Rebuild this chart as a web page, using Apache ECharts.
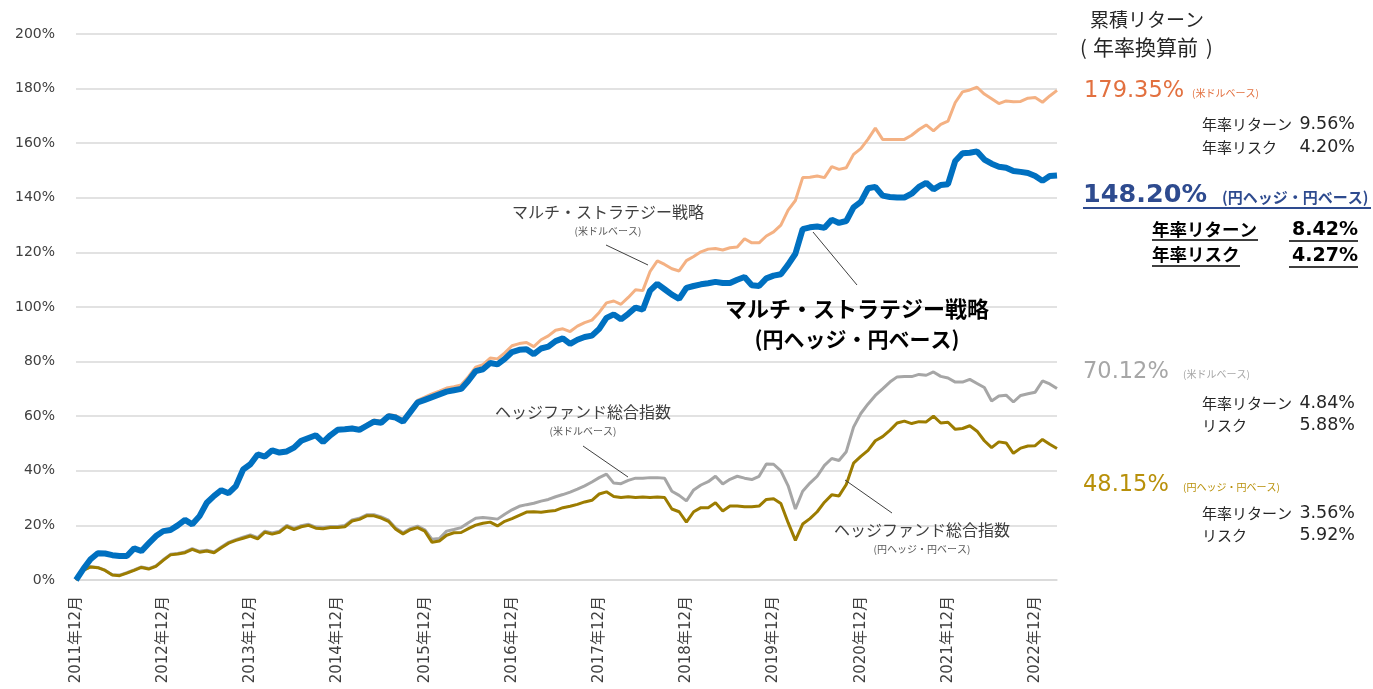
<!DOCTYPE html>
<html>
<head>
<meta charset="utf-8">
<script src="https://cdn.jsdelivr.net/npm/echarts@6/dist/echarts.min.js"></script>
<style>
    html, body { margin: 0; padding: 0; background: #fff; }
    #chart_div { width: 1373px; height: 689px; }
</style>
</head>
<body>
<div id="chart_div"></div>
<script>
// ----------- データ -----------
// 月次 2011年12月 ～ 2023年3月
var months = []
var year = 2011, month = 12
while (months.length < 136) {
    months.push(year + "年" + month + "月")
    month++
    if (month > 12) { month = 1; year++ }
}

var y_ticks = [0, 20, 40, 60, 80, 100, 120, 140, 160, 180, 200]

// マルチ・ストラテジー戦略 (円ヘッジ・円ベース)
var ms_jpy = [
    0, 4, 7.6, 9.8, 9.7, 9.1, 8.8, 8.8, 11.6, 10.6, 13.4, 16.1,
    17.9, 18.3, 20, 22, 20.4, 23.4, 28.3, 30.8, 32.9, 31.8, 34.4, 40.5,
    42.4, 46, 45.2, 47.5, 46.7, 47.1, 48.5, 51, 52, 53, 50.5, 53,
    55, 55.2, 55.5, 55, 56.5, 58, 57.6, 60, 59.5, 58, 61.5, 65,
    66, 67, 68, 69, 69.5, 70, 73, 76.5, 77.2, 79.5, 79, 81,
    83.5, 84.3, 84.5, 82.7, 84.8, 85.5, 87.5, 88.5, 86.5, 88, 89, 89.5,
    92, 96, 97.3, 95.5, 97.5, 99.8, 99, 106, 108.5, 106.5, 104.5, 103,
    107, 107.7, 108.3, 108.7, 109.2, 108.8, 108.8, 110, 111, 108, 107.7, 110.5,
    111.5, 112, 115.5, 119.5, 128.5, 129.2, 129.5, 129, 132, 130.8, 131.5, 136.5,
    138.5, 143.5, 144, 140.8, 140.3, 140.1, 140.1, 141.5, 144, 145.5, 143.1, 144.7,
    145, 153.5, 156.3, 156.5, 157, 154, 152.5, 151.4, 151, 149.8, 149.5, 149.1,
    148, 146.2, 148, 148.2
]
// マルチ・ストラテジー戦略 (米ドルベース)
var ms_usd = [
    0, 4.2, 7.8, 9.9, 9.6, 9, 8.7, 8.9, 11.5, 10.7, 13.5, 16,
    17.8, 18.4, 20.1, 21.8, 20.5, 23.5, 28.2, 30.6, 32.8, 31.9, 34.6, 40.3,
    42.5, 46.1, 45.4, 47.6, 46.8, 47.3, 48.7, 51.2, 52.2, 53.3, 50.8, 53.4,
    55.3, 55.6, 56, 55.5, 57, 58.6, 58.2, 60.6, 60.2, 58.8, 62.3, 65.8,
    67, 68.2, 69.2, 70.3, 70.8, 71.4, 74.5, 78, 78.9, 81.3, 81, 83.2,
    85.8, 86.6, 87, 85.5, 88, 89.4, 91.5, 92, 91, 93, 94.3, 95.2,
    98, 101.5, 102.2, 101, 103.5, 106.3, 106, 113, 116.9, 115.6, 114, 113.2,
    117, 118.5, 120.2, 121.2, 121.4, 120.9, 121.7, 122, 125, 123.5, 123.5, 126,
    127.5, 130, 135.5, 139, 147.4, 147.5, 148, 147.4, 151.4, 150.4, 151, 155.9,
    158, 161.5, 165.5, 161.4, 161.4, 161.4, 161.4, 162.9, 165, 166.7, 164.5, 166.9,
    168.1, 174.9, 178.8, 179.5, 180.5, 178, 176.3, 174.5, 175.5, 175.2, 175.3, 176.5,
    176.7, 175, 177.3, 179.35
]
// ヘッジファンド総合指数 (米ドルベース)
var hf_usd = [
    0, 3.6, 4.9, 4.6, 3.6, 1.9, 1.8, 2.7, 3.7, 4.8, 4.2, 5.2,
    7.4, 9.4, 9.7, 10.3, 11.5, 10.5, 10.9, 10.3, 12.1, 13.8, 14.8, 15.7,
    16.5, 15.5, 17.9, 17.2, 17.9, 20, 18.9, 19.9, 20.4, 19.4, 19.2, 19.6,
    19.6, 20, 22, 22.6, 23.9, 23.9, 23.1, 21.9, 19, 17.3, 18.8, 19.7,
    18.4, 14.9, 15.2, 17.9, 18.5, 19.2, 21, 22.6, 22.9, 22.6, 22.3, 24.1,
    25.7, 27, 27.6, 28.1, 28.9, 29.5, 30.5, 31.3, 32.2, 33.3, 34.5, 35.9,
    37.5, 38.8, 35.5, 35.3, 36.5, 37.3, 37.3, 37.5, 37.5, 37.3, 32.5, 31,
    29, 33, 34.8, 36, 38, 35.2, 36.9, 38, 37.3, 36.8, 38, 42.5,
    42.4, 40, 34.5, 26, 32.5, 35.5, 38, 42, 44.5, 43.8, 47, 56,
    61, 64.5, 67.6, 70, 72.5, 74.4, 74.5, 74.5, 75.3, 75, 76.2, 74.6,
    74, 72.5, 72.5, 73.5, 72, 70.5, 65.6, 67.4, 67.7, 65.2, 67.6, 68.2,
    68.8, 72.9, 71.8, 70.12
]
// ヘッジファンド総合指数 (円ヘッジ・円ベース)
var hf_jpy = [
    0, 3.5, 4.8, 4.5, 3.5, 1.8, 1.6, 2.5, 3.5, 4.6, 4, 5,
    7.2, 9.2, 9.5, 10, 11.2, 10.2, 10.6, 10, 11.8, 13.5, 14.5, 15.3,
    16.1, 15.1, 17.5, 16.8, 17.5, 19.6, 18.5, 19.5, 20, 19, 18.8, 19.2,
    19.2, 19.5, 21.6, 22.2, 23.5, 23.5, 22.7, 21.5, 18.6, 16.9, 18.4, 19.2,
    17.9, 13.8, 14.3, 16.4, 17.3, 17.4, 18.8, 20.1, 20.8, 21.2, 19.8, 21.5,
    22.5, 23.7, 24.9, 25, 24.8, 25.2, 25.5, 26.5, 27, 27.7, 28.6, 29.2,
    31.5, 32.3, 30.6, 30.2, 30.5, 30.2, 30.4, 30.2, 30.4, 30.2, 26, 25,
    21.2, 25, 26.5, 26.5, 28.3, 25.3, 27.1, 27.1, 26.8, 26.8, 27.1, 29.5,
    29.8, 28, 21, 14.5, 20.5, 22.5, 25, 28.5, 31.2, 30.8, 35, 42.8,
    45.3, 47.5, 51, 52.5, 54.8, 57.5, 58.2, 57.3, 58, 57.9, 60, 57.5,
    57.8, 55.2, 55.5, 56.5, 54.5, 51, 48.5, 50.6, 50.2, 46.4, 48.3, 49.1,
    49.2, 51.5, 49.7, 48.15
]

// 右側の統計
var stats_ms_usd = { total: "179.35%", ret: "9.56%", risk: "4.20%" }
var stats_ms_jpy = { total: "148.20%", ret: "8.42%", risk: "4.27%" }
var stats_hf_usd = { total: "70.12%", ret: "4.84%", risk: "5.88%" }
var stats_hf_jpy = { total: "48.15%", ret: "3.56%", risk: "5.92%" }

// ----------- 色・フォント -----------
var c_blue = "#0070C0"
var c_orange = "#F4B183"
var c_gray = "#A6A6A6"
var c_gold = "#9C7C00"
var jp = "'Noto Sans CJK JP', sans-serif"
var num = "'DejaVu Sans', 'Noto Sans CJK JP', sans-serif"

// ----------- 描画用の関数 -----------
function txt(text, x, y, size, color, opts) {
    opts = opts || {}
    return {
        type: "text", x: x, y: y, z: 100,
        style: {
            text: text,
            fill: color,
            font: (opts.bold ? "bold " : "") + size + "px " + (opts.family || jp),
            textAlign: opts.align || "left",
            textVerticalAlign: "middle",
            align: opts.align || "left",
            verticalAlign: "middle"
        }
    }
}
function seg(x1, y1, x2, y2, color, width) {
    return {
        type: "line", z: 100,
        shape: { x1: x1, y1: y1, x2: x2, y2: y2 },
        style: { stroke: color, lineWidth: width || 1 }
    }
}

var graphic = [
    // 右側
    txt("累積リターン", 1090, 20, 19, "#262626"),
    txt("(", 1080, 47, 20, "#262626"),
    txt("年率換算前", 1093, 47, 21, "#262626"),
    txt(")", 1206, 47, 20, "#262626"),

    txt(stats_ms_usd.total, 1084, 91, 22.5, "#E2703F", { family: num }),
    txt("(米ドルベース)", 1192, 93, 10, "#E2703F"),
    txt("年率リターン", 1202, 124, 15, "#262626"),
    txt(stats_ms_usd.ret, 1355, 124, 17.5, "#262626", { family: num, align: "right" }),
    txt("年率リスク", 1202, 147, 15, "#262626"),
    txt(stats_ms_usd.risk, 1355, 147, 17.5, "#262626", { family: num, align: "right" }),

    txt(stats_ms_jpy.total, 1083, 195, 25.5, "#2E4B8F", { family: num, bold: true }),
    txt("(円ヘッジ・円ベース)", 1222, 197, 15, "#2E4B8F", { bold: true }),
    seg(1083, 208, 1371, 208, "#2E4B8F", 2),
    txt("年率リターン", 1152, 229, 17.5, "#000", { bold: true }),
    txt(stats_ms_jpy.ret, 1358, 230, 19, "#000", { family: num, bold: true, align: "right" }),
    seg(1152, 240, 1258, 240, "#000", 1.5),
    seg(1289, 241, 1358, 241, "#000", 1.5),
    txt("年率リスク", 1152, 254, 17.5, "#000", { bold: true }),
    txt(stats_ms_jpy.risk, 1358, 256, 19, "#000", { family: num, bold: true, align: "right" }),
    seg(1152, 266, 1240, 266, "#000", 1.5),
    seg(1289, 267, 1358, 267, "#000", 1.5),

    txt(stats_hf_usd.total, 1083, 372, 22.5, "#A6A6A6", { family: num }),
    txt("(米ドルベース)", 1183, 374, 10, "#A6A6A6"),
    txt("年率リターン", 1202, 403, 15, "#262626"),
    txt(stats_hf_usd.ret, 1355, 403, 17.5, "#262626", { family: num, align: "right" }),
    txt("リスク", 1202, 425, 15, "#262626"),
    txt(stats_hf_usd.risk, 1355, 425, 17.5, "#262626", { family: num, align: "right" }),

    txt(stats_hf_jpy.total, 1083, 485, 22.5, "#B8900A", { family: num }),
    txt("(円ヘッジ・円ベース)", 1183, 487, 10, "#B8900A"),
    txt("年率リターン", 1202, 513, 15, "#262626"),
    txt(stats_hf_jpy.ret, 1355, 513, 17.5, "#262626", { family: num, align: "right" }),
    txt("リスク", 1202, 535, 15, "#262626"),
    txt(stats_hf_jpy.risk, 1355, 535, 17.5, "#262626", { family: num, align: "right" }),

    // グラフ内の注記
    txt("マルチ・ストラテジー戦略", 608, 212, 16, "#404040", { align: "center" }),
    txt("(米ドルベース)", 608, 231, 10, "#595959", { align: "center" }),
    seg(606, 245, 648, 265, "#404040"),

    txt("マルチ・ストラテジー戦略", 857, 309, 22, "#000", { bold: true, align: "center" }),
    txt("(円ヘッジ・円ベース)", 857, 339, 21, "#000", { bold: true, align: "center" }),
    seg(813, 232, 857, 285, "#404040"),

    txt("ヘッジファンド総合指数", 583, 412, 16, "#404040", { align: "center" }),
    txt("(米ドルベース)", 583, 431, 10, "#595959", { align: "center" }),
    seg(583, 446, 628, 477, "#404040"),

    txt("ヘッジファンド総合指数", 922, 530, 16, "#404040", { align: "center" }),
    txt("(円ヘッジ・円ベース)", 922, 549, 10, "#595959", { align: "center" }),
    seg(845, 480, 892, 513, "#404040")
]

// ----------- グラフ -----------
var chart = echarts.init(document.getElementById("chart_div"))
var option = {
    animation: false,
    backgroundColor: "#fff",
    grid: { left: 76, right: 316, top: 34, bottom: 109 },
    xAxis: {
        type: "category",
        data: months,
        boundaryGap: false,
        axisLine: { lineStyle: { color: "#D9D9D9", width: 1.5 } },
        axisTick: { show: false },
        axisLabel: {
            // 12月だけ表示
            interval: function (index) {
                return index % 12 == 0
            },
            rotate: 90,
            margin: 16,
            color: "#404040",
            fontSize: 15,
            fontFamily: num
        }
    },
    yAxis: {
        type: "value",
        min: y_ticks[0],
        max: y_ticks[y_ticks.length - 1],
        interval: 20,
        axisLine: { show: false },
        axisTick: { show: false },
        splitLine: { lineStyle: { color: "#D9D9D9", width: 1.5 } },
        axisLabel: {
            formatter: "{value}%",
            margin: 21,
            color: "#404040",
            fontSize: 14,
            fontFamily: num
        }
    },
    series: [
        { name: "マルチ(米ドル)", type: "line", data: ms_usd, symbol: "none", z: 2,
          lineStyle: { color: c_orange, width: 3 } },
        { name: "HF(米ドル)", type: "line", data: hf_usd, symbol: "none", z: 3,
          lineStyle: { color: c_gray, width: 3 } },
        { name: "HF(円)", type: "line", data: hf_jpy, symbol: "none", z: 4,
          lineStyle: { color: c_gold, width: 3 } },
        { name: "マルチ(円)", type: "line", data: ms_jpy, symbol: "none", z: 5,
          lineStyle: { color: c_blue, width: 6 } }
    ],
    graphic: graphic
}
chart.setOption(option)
</script>
</body>
</html>
